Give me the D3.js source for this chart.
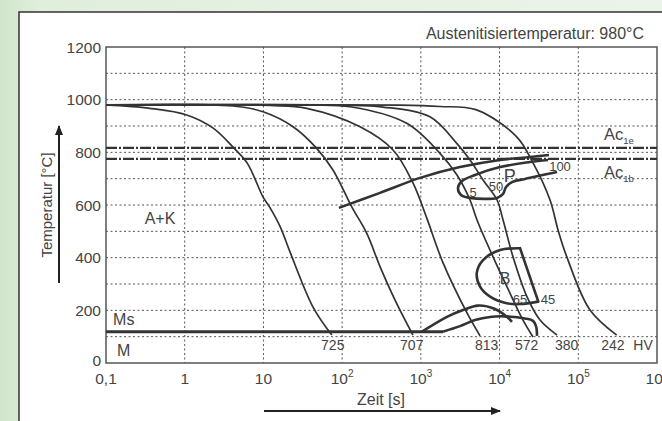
<!DOCTYPE html>
<html>
<head>
<meta charset="utf-8">
<script src="https://cdn.jsdelivr.net/npm/d3@7"></script>
<style>
  body { margin: 0; }
  text { font-family: "Liberation Sans", Arial, sans-serif; fill: #444; }
</style>
</head>
<body>
<svg width="662" height="421"></svg>
<script>
// cooling curves [time s, temperature °C]
const curve725 = [[0.1,980],[0.36,967],[1.06,942],[2.3,892],[4.1,820],[6.2,760],[9.9,630],[12,592],[16.3,518],[22,418],[43,210],[74,106]];
const curve707 = [[0.1,980],[4.1,976],[9.9,954],[23.8,897],[47.5,815],[76.5,733],[132,594],[205,493],[303,366],[470,239],[794,106]];
const curve813 = [[0.1,980],[12,978],[35.5,967],[169,897],[443,809],[794,684],[1186,551],[1915,380],[3857,190],[5646,103]];
const curve572 = [[0.1,980],[29,979],[126,973],[661,910],[1750,796],[2877,714],[4214,619],[5168,543],[8260,403],[12440,289],[19860,163],[26600,99]];
const curve380 = [[0.1,980],[94,979],[330,972],[1306,935],[2858,834],[4214,771],[6166,695],[9290,619],[11070,543],[14830,403],[22330,251],[32660,163],[53700,106]];
const curve242 = [[0.1,980],[543,979],[1750,974],[5000,962],[16520,859],[26600,760],[43750,619],[55300,505],[71300,404],[140900,201],[307600,106]];
const coolingCurves = [curve725, curve707, curve813, curve572, curve380, curve242];
const hardness = ["725", "707", "813", "572", "380", "242"];
const hardnessAt = [76, 766, 6870, 22130, 71300, 276000];

// transformation lines
const pearliteStart = [[91,589],[303,646],[975,703],[3141,744],[10140,771],[24380,782],[42460,790]];
const pearliteLoop = [[41300,771],[24380,763],[10140,744],[4875,714],[3334,691],[2965,665],[3236,638],[4214,627],[9290,627],[11070,642],[12080,668],[14390,687],[21040,699],[53700,725]];
const bainiteLoop = [[31050,233],[18200,224],[12330,227],[7570,252],[5646,290],[5129,341],[6166,391],[10140,429],[18200,436]];
const bainiteUpper = [[1035,119],[2148,175],[3434,201],[5322,218],[8750,205],[12440,175],[14390,156]];
const bainiteLower = [[1915,119],[3148,140],[4875,163],[7570,175],[11720,177],[21040,169],[26600,160],[29040,140],[29920,103]];
const msTemp = 119;
const msEnd = 1915;

const acTemps = [817, 775];
const acSubs = ["1e", "1b"];

const timeTicks = [0.1, 1, 10, 100, 1e3, 1e4, 1e5, 1e6];
const timeBase = ["0,1", "1", "10", "10", "10", "10", "10", "10"];
const timeExp = ["", "", "", "2", "3", "4", "5", "6"];
const tempTicks = [0, 200, 400, 600, 800, 1000, 1200];

const svg = d3.select("svg");
const defs = svg.append("defs");
const grad = defs.append("linearGradient").attr("id", "bg");
grad.append("stop").attr("offset", "0").attr("stop-color", "#d0e5cb");
grad.append("stop").attr("offset", "0.06").attr("stop-color", "#e0eedc");
grad.append("stop").attr("offset", "1").attr("stop-color", "#ebf4e9");
defs.append("marker").attr("id", "arr").attr("viewBox", "0 0 10 10")
  .attr("refX", 9).attr("refY", 5).attr("markerWidth", 10).attr("markerHeight", 10)
  .attr("markerUnits", "userSpaceOnUse").attr("orient", "auto")
  .append("path").attr("d", "M0,1L10,5L0,9Z").attr("fill", "#222");

svg.append("rect").attr("width", 662).attr("height", 421).attr("fill", "url(#bg)");
svg.append("rect").attr("x", 19).attr("y", 12).attr("width", 700).attr("height", 500)
  .attr("fill", "#fff").attr("stroke", "#333").attr("stroke-width", 1.5);

const x = d3.scaleLog().domain([0.1, 1e6]).range([106, 657]);
const y = d3.scaleLinear().domain([0, 1200]).range([363, 47]);

// grid
const grid = svg.append("g").attr("stroke", "#555").attr("stroke-width", 1).attr("stroke-dasharray", "2,2.5");
grid.selectAll(".h").data(d3.range(100, 1200, 100)).enter().append("line")
  .attr("x1", 106).attr("x2", 657).attr("y1", d => y(d)).attr("y2", d => y(d));
grid.selectAll(".v").data(timeTicks.slice(1, -1)).enter().append("line")
  .attr("y1", 47).attr("y2", 363).attr("x1", d => x(d)).attr("x2", d => x(d));

svg.append("rect").attr("x", 106).attr("y", 47).attr("width", 551).attr("height", 316)
  .attr("fill", "none").attr("stroke", "#555").attr("stroke-width", 1.5);

// axis labels
svg.selectAll(".yt").data(tempTicks).enter().append("text")
  .attr("x", 101).attr("y", d => y(d) - (d === 0 ? 3 : 0)).attr("dy", "0.36em")
  .attr("text-anchor", "end").attr("font-size", 15.5).text(d => d);
const xt = svg.selectAll(".xt").data(timeTicks).enter().append("text")
  .attr("x", d => x(d)).attr("y", 384).attr("text-anchor", "middle").attr("font-size", 15.5);
xt.append("tspan").text((d, i) => timeBase[i]);
xt.append("tspan").attr("dy", -7).attr("font-size", 10).text((d, i) => timeExp[i]);

// Ac lines
svg.selectAll(".ac").data(acTemps).enter().append("line")
  .attr("x1", 106).attr("x2", 657).attr("y1", d => y(d)).attr("y2", d => y(d))
  .attr("stroke", "#333").attr("stroke-width", 2.2).attr("stroke-dasharray", "11,2,2,2");
const acl = svg.selectAll(".acl").data(acTemps).enter().append("text")
  .attr("x", 604).attr("y", (d, i) => y(d) + (i === 0 ? -8 : 19)).attr("font-size", 16.5);
acl.append("tspan").text("Ac");
acl.append("tspan").attr("dy", 4).attr("font-size", 9.5).text((d, i) => acSubs[i]);

const line = d3.line().x(d => x(d[0])).y(d => y(d[1])).curve(d3.curveCatmullRom.alpha(0.5));

// cooling curves
svg.selectAll(".cool").data(coolingCurves).enter().append("path")
  .attr("d", line).attr("fill", "none").attr("stroke", "#333").attr("stroke-width", 1.7);

// Ms line
svg.append("line").attr("x1", x(0.1)).attr("x2", x(msEnd)).attr("y1", y(msTemp)).attr("y2", y(msTemp))
  .attr("stroke", "#333").attr("stroke-width", 3);

const thick = [pearliteStart, pearliteLoop, bainiteUpper, bainiteLower, bainiteLoop];
svg.selectAll(".thick").data(thick).enter().append("path")
  .attr("d", line).attr("fill", "none").attr("stroke", "#333").attr("stroke-width", 2.6)
  .attr("stroke-linejoin", "round");
svg.append("line")
  .attr("x1", x(bainiteLoop[0][0])).attr("y1", y(bainiteLoop[0][1]))
  .attr("x2", x(bainiteLoop[bainiteLoop.length - 1][0])).attr("y2", y(bainiteLoop[bainiteLoop.length - 1][1]))
  .attr("stroke", "#333").attr("stroke-width", 2.6).attr("stroke-linecap", "round");

// hardness
svg.selectAll(".hv").data(hardness).enter().append("text")
  .attr("x", (d, i) => x(hardnessAt[i])).attr("y", 350).attr("text-anchor", "middle")
  .attr("font-size", 14).text(d => d);
svg.append("text").attr("x", 643).attr("y", 350).attr("text-anchor", "middle").attr("font-size", 14).text("HV");

// region labels
function label(t, T, s, size, anchor) {
  svg.append("text").attr("x", x(t)).attr("y", y(T)).attr("dy", "0.36em")
    .attr("text-anchor", anchor || "middle").attr("font-size", size).text(s);
}
label(0.485, 551, "A+K", 16);
label(0.123, 165, "Ms", 16, "start");
label(0.138, 48, "M", 16, "start");
label(13500, 712, "P", 18);
label(4600, 649, "5", 13);
label(9000, 672, "50", 13);
label(58600, 748, "100", 13);
label(11720, 323, "B", 16);
label(18200, 243, "65", 13);
label(41300, 243, "45", 13);

// titles
svg.append("text").attr("x", 644).attr("y", 39).attr("text-anchor", "end").attr("font-size", 16)
  .text("Austenitisiertemperatur: 980°C");
svg.append("text").attr("transform", "translate(52,205) rotate(-90)").attr("text-anchor", "middle")
  .attr("font-size", 15).text("Temperatur [°C]");
svg.append("line").attr("x1", 59).attr("x2", 59).attr("y1", 283).attr("y2", 126)
  .attr("stroke", "#222").attr("stroke-width", 2).attr("marker-end", "url(#arr)");
svg.append("text").attr("x", 381).attr("y", 405).attr("text-anchor", "middle").attr("font-size", 16)
  .text("Zeit [s]");
svg.append("line").attr("x1", 264).attr("x2", 500).attr("y1", 411).attr("y2", 411)
  .attr("stroke", "#222").attr("stroke-width", 2).attr("marker-end", "url(#arr)");
</script>
</body>
</html>
